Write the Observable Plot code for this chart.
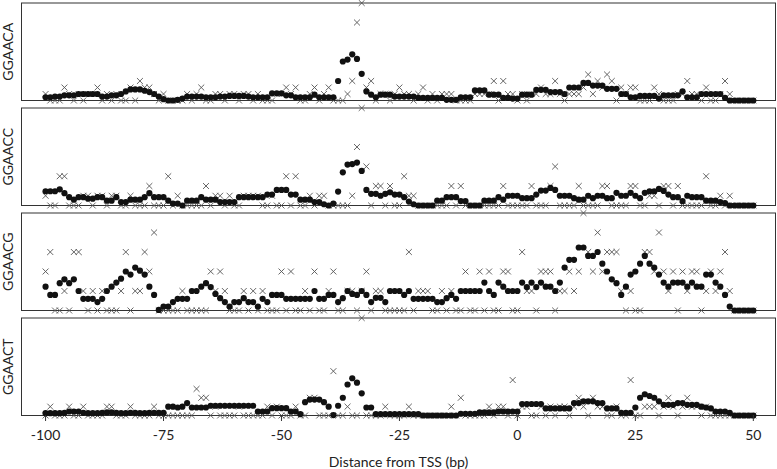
<!DOCTYPE html>
<html><head><meta charset="utf-8">
<script src="https://cdn.jsdelivr.net/npm/d3@7"></script>
<script src="https://cdn.jsdelivr.net/npm/@observablehq/plot@0.6"></script>
<style>
body{margin:0;background:#fff;}
#chart svg{display:block;overflow:visible;}
</style></head><body><div id="chart"></div>
<script>
const positions = d3.range(-100, 51);
const motifs = ["GGAACA", "GGAACC", "GGAACG", "GGAACT"];
const xTicks = [-100, -75, -50, -25, 0, 25, 50];
const xLabel = "Distance from TSS (bp)";

const rawGGAACA = [
1,0,0,0,2,1,0,1,0,1, 1,2,0,1,0,1,0,0,2,0, 3,2,2,1,0,1,0,0,0,0, 1,0,1,2,0,0,1,1,0,1,
1,0,1,1,0,1,0,0,0,1, 1,2,1,2,0,0,1,2,0,1, 2,0,0,0,1,3,12,15,2,3, 0,1,1,0,1,2,1,1,0,1,
2,0,1,0,1,1,1,0,0,0, 0,1,1,1,1,3,0,3,1,1, 0,1,0,1,1,2,1,1,3,1, 0,1,1,1,2,4,1,3,2,4,
3,0,2,1,2,2,0,0,0,2, 1,0,0,0,1,1,3,1,1,0, 2,0,0,1,3,1,0,0,0,0, 0];
const smoothGGAACA = [
0.5,0.5,0.6,0.6,0.8,0.8,0.8,1.0,1.0,1.0, 1.0,1.0,0.6,0.6,0.8,0.8,1.0,1.4,1.7,1.7,
1.7,1.5,1.3,1.0,0.6,0.2,0.0,0.0,0.1,0.3, 0.6,0.6,0.6,0.6,0.5,0.5,0.5,0.6,0.6,0.7,
0.7,0.7,0.7,0.6,0.5,0.5,0.5,0.5,1.1,1.1, 1.1,0.8,0.8,0.5,0.5,0.5,0.5,0.9,0.5,0.5,
0.5,0.5,3.0,6.0,6.3,7.1,6.4,4.1,1.4,0.9, 0.5,0.9,0.9,0.9,0.6,0.6,0.6,0.6,0.6,0.4,
0.4,0.4,0.4,0.4,0.4,0.1,0.1,0.1,0.5,0.5, 0.5,1.55,1.55,1.55,0.9,0.9,0.9,0.4,0.4,0.3,
0.3,0.9,0.9,0.9,1.65,1.65,1.65,1.3,1.3,1.3, 1.0,2.0,2.0,2.0,2.7,2.7,2.3,2.3,2.3,1.8,
1.8,1.8,1.0,1.0,0.5,0.5,0.7,0.7,0.7,0.7, 0.3,0.8,0.8,0.8,0.8,1.4,0.5,0.5,0.5,1.0,
1.0,1.0,1.0,1.0,0.4,0,0,0,0,0, 0];

const rawGGAACC = [
1,0,0,3,3,0,0,0,1,1, 0,1,1,0,1,1,0,0,1,0, 0,0,2,0,0,0,3,0,1,0, 0,0,0,0,2,0,1,1,0,1,
0,0,1,1,1,1,0,0,1,0, 0,3,0,3,0,0,1,0,1,1, 0,0,0,0,0,1,6,10,4,0, 2,2,0,2,0,0,3,1,1,0,
0,0,0,0,0,0,2,0,2,0, 0,0,0,0,0,0,0,2,0,0, 0,0,0,2,0,0,0,2,4,0, 0,0,0,2,0,0,0,0,2,2,
0,0,0,0,2,2,0,0,1,1, 0,2,2,0,2,0,0,0,0,0, 3,0,0,1,0,1,0,0,0,0, 0];
const smoothGGAACC = [
1.46,1.46,1.46,1.66,1.26,0.85,0.6,0.85,0.85,0.7, 0.7,0.85,0.85,0.5,0.5,0.85,0.35,0.35,0.6,0.6,
0.6,0.85,1.26,0.85,0.85,0.85,0.5,0.2,0.2,0, 0.5,0.5,0.5,0.85,0.6,0.6,0.6,0.35,0.35,0.35,
0.35,0.85,0.85,0.85,0.85,0.85,0.85,1.12,1.12,1.6, 1.6,1.6,1.12,1.12,0.6,0.6,0.6,0.35,0.35,0.13,
0,0.2,1.43,3.4,4.2,4.25,4.4,3.55,1.6,1.2, 1.2,1.0,1.2,1.36,1.12,1.12,0.85,0.4,0.13,0,
0,0,0,0.5,0.5,0.85,0.85,0.85,0.45,0.45, 0,0,0,0.5,0.5,0.5,0.85,0.6,1.0,1.0,
1.0,0.75,0.75,0.75,1.12,1.53,1.53,1.8,1.6,1.0, 1.0,1.0,0.75,0.6,0.6,1.0,0.75,1.0,1.0,0.75,
0.75,1.3,1.0,1.0,1.3,1.0,0.75,1.3,1.46,1.46, 1.7,1.5,1.12,0.85,0.85,0.45,1.0,0.85,0.85,0.85,
0.5,0.5,0.5,0.35,0.25,0,0,0,0,0, 0];

const rawGGAACG = [
2,3,0,0,1,0,3,3,1,0, 1,0,1,0,0,0,1,3,0,1, 1,3,2,4,0,0,0,0,0,1, 0,0,0,0,0,2,1,2,1,0,
0,0,1,0,1,0,1,0,0,0, 2,0,2,0,0,1,0,2,0,0, 1,2,0,0,1,1,0,1,2,0, 1,1,0,0,0,0,0,3,0,1,
1,1,0,0,1,0,1,0,0,2, 0,0,2,0,2,0,0,2,2,0, 0,3,1,1,0,2,2,2,0,1, 1,2,1,2,5,3,2,4,2,3,
3,3,1,0,1,0,0,3,3,2, 4,2,1,2,0,2,1,2,2,0, 1,2,1,2,3,1,0,0,0,0, 0];
const smoothGGAACG = [
1.22,0.8,0.8,1.4,1.6,1.4,1.6,1.0,0.6,0.6, 0.6,0.43,0.6,1.0,1.22,1.43,1.63,2.0,1.84,2.2,
2.04,1.84,1.22,0.8,0.03,0.2,0.2,0.43,0.6,0.6, 0.6,1.0,1.0,1.22,1.4,1.2,0.85,0.63,0.43,0.2,
0.43,0.43,0.63,0.43,0.43,0.2,0.6,0.43,0.8,0.8, 0.8,0.6,0.6,0.6,0.6,0.6,0.6,1.0,0.6,0.6,
0.8,0.8,0.43,0.63,1.0,0.85,0.8,1.0,0.8,0.43, 0.65,0.65,0.43,1.0,1.0,1.0,0.8,1.0,0.6,0.6,
0.6,0.6,0.6,0.43,0.43,0.63,0.8,0.6,1.0,1.0, 1.0,1.0,1.0,1.43,1.0,0.8,1.43,1.22,1.0,1.0,
1.0,1.43,1.2,1.43,1.2,1.43,1.22,1.22,1.0,1.43, 2.2,2.6,2.6,3.23,3.23,2.8,2.8,3.0,2.4,2.0,
1.6,1.4,0.8,1.22,1.84,2.0,2.4,2.8,2.4,2.2, 1.84,1.43,1.22,1.43,1.43,1.43,1.22,1.43,1.22,1.22,
1.84,1.84,1.43,1.22,0.8,0.2,0,0,0,0, 0];

const rawGGAACT = [
0,1,0,0,0,1,0,0,1,0, 0,0,0,1,1,0,0,0,1,0, 0,0,0,1,0,0,0,0,0,0, 0,0,3,2,2,0,1,0,0,0,
0,1,0,0,0,0,0,1,0,1, 0,0,0,1,0,0,2,2,0,0, 0,5,0,0,1,0,0,11,0,0, 0,0,1,0,0,0,0,1,0,0,
0,0,0,0,0,0,1,0,2,0, 0,0,0,0,1,0,1,1,0,4, 0,1,1,0,0,1,0,1,0,1, 1,0,1,2,1,0,2,1,1,0,
0,1,0,0,4,0,0,1,1,1, 0,1,2,1,0,1,2,1,1,0, 1,0,0,0,0,0,0,0,0,0, 0];
const smoothGGAACT = [
0.26,0.26,0.26,0.26,0.3,0.45,0.45,0.45,0.3,0.26, 0.26,0.26,0.3,0.35,0.35,0.3,0.26,0.26,0.3,0.3,
0.26,0.26,0.3,0.3,0.3,0.3,1.0,1.0,0.9,1.0, 1.4,0.9,0.9,0.9,0.9,1.1,1.1,1.1,1.1,1.1,
1.1,1.1,1.1,1.1,1.1,0.45,0.45,0.45,0.83,0.83, 0.83,0.83,0.45,0.45,0.15,1.5,1.8,1.8,1.8,1.5,
1.0,0.05,1.1,2.0,3.5,4.2,3.7,2.5,0.9,0.9, 0.15,0.15,0.15,0.15,0.15,0.15,0.15,0.15,0.15,0.15,
0,0,0,0,0,0,0,0,0.2,0.2, 0.2,0.2,0.35,0.35,0.35,0.35,0.45,0.45,0.45,0.45,
0.45,1.3,1.3,1.3,1.3,1.3,0.8,0.8,0.8,0.8, 0.8,0.8,1.4,1.4,1.6,1.6,1.6,1.4,1.4,0.8,
0.8,0.8,0.3,0.3,0.3,0.9,2.0,2.4,2.2,2.0, 1.6,1.2,1.2,1.2,1.4,1.4,1.2,1.2,1.2,1.0,
0.9,0.8,0.45,0.45,0.45,0.3,0,0,0,0, 0];

const rawSeries = [rawGGAACA, rawGGAACC, rawGGAACG, rawGGAACT];
const smoothSeries = [smoothGGAACA, smoothGGAACC, smoothGGAACG, smoothGGAACT];

const chart = document.getElementById("chart");
const font = "Lato, 'Open Sans', sans-serif";

motifs.forEach((motif, k) => {
  const last = k === motifs.length - 1;
  const raw = rawSeries[k], sm = smoothSeries[k];
  const rows = positions.map((p, i) => ({p, raw: raw[i], sm: sm[i]}));
  const marks = [
    Plot.frame({stroke: "#333", strokeWidth: 1}),
    Plot.dot(rows, {x: "p", y: "raw", symbol: "times", r: 2.8, stroke: "#555", strokeWidth: 0.9}),
    Plot.dot(rows, {x: "p", y: "sm", r: 3.1, fill: "#111", stroke: "none"}),
    Plot.text([motif], {frameAnchor: "left", textAnchor: "middle", lineAnchor: "middle", dx: -13, rotate: -90, text: d => d, fontSize: 14, fill: "#222"})
  ];
  if (last) {
    marks.push(Plot.axisX({ticks: xTicks, tickSize: 6, tickPadding: 9, tickFormat: d => String(d), label: null, fontSize: 14, stroke: "#333"}));
    marks.push(Plot.text([xLabel], {frameAnchor: "bottom", dy: 47, text: d => d, fontSize: 14, fill: "#222", lineAnchor: "middle"}));
  }
  const svg = Plot.plot({
    width: 777,
    height: last ? 154 : 105,
    marginLeft: 21, marginRight: 2, marginTop: 2.5, marginBottom: last ? 54 : 5,
    style: {fontFamily: font, fontSize: "14px", overflow: "visible", color: "#222", background: "transparent"},
    x: {domain: [-105.1, 54.7], axis: null},
    y: {domain: [0, d3.max(raw)], axis: null},
    marks
  });
  chart.appendChild(svg);
});
</script></body></html>
